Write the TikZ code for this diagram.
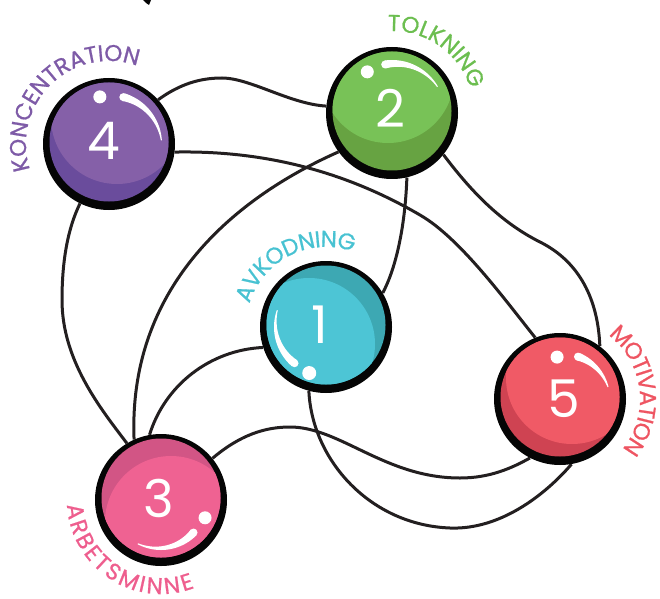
\documentclass[tikz,border=0pt]{standalone}
\usepackage{fontspec}
\setmainfont{Poppins}
\newfontfamily\myfam{Poppins}
\newfontfamily\labfam[FakeBold=0.8]{Poppins}
\usetikzlibrary{calc}
\definecolor{linecol}{HTML}{231F20}
\definecolor{ring}{HTML}{050505}
\definecolor{pl}{HTML}{8560A8}\definecolor{pd}{HTML}{6A4C9C}\definecolor{pt}{HTML}{7E5BA7}
\definecolor{gl}{HTML}{78C257}\definecolor{gd}{HTML}{67A342}\definecolor{gt}{HTML}{6CBE50}
\definecolor{cl}{HTML}{4DC5D5}\definecolor{cd}{HTML}{3DA8B3}\definecolor{ct}{HTML}{48C2D2}
\definecolor{rl}{HTML}{F05A66}\definecolor{rd}{HTML}{CF4352}\definecolor{rt}{HTML}{EE5562}
\definecolor{kl}{HTML}{EF6292}\definecolor{kd}{HTML}{D25585}\definecolor{kt}{HTML}{EE5E8E}
\newcommand\labelfont{\labfam\fontsize{23}{23}\selectfont}
\newcommand\numfont{\myfam\fontsize{52}{52}\selectfont}
\newlength\ctw
\newcommand\measurech[1]{%
  \pgfinterruptpicture\global\setbox1=\hbox{\labelfont #1}\endpgfinterruptpicture
  \ctw=\wd1\relax}
\newcommand\drawball[6]{%
  \fill[ring] (#1.center) circle[radius=66];
  \begin{scope}
    \clip ($(#1.center)+(0,2)$) circle[radius=59.5];
    \fill[#3] (#1.center) circle[radius=70];
    \fill[#2] ($(#1.center)+(#4)$) circle[radius=66];
  \end{scope}
  \node[numtext] at ($(#1.center)+(#6)$) {#5};
}
\newcommand\ballshine[5]{%
  \begin{scope}[shift={(#1.center)}]
    \fill[white] plot[domain=0:1,samples=40,variable=\t]
      ({#4*cos(#2+(#3-(#2))*\t)},{#4*sin(#2+(#3-(#2))*\t)})
      -- plot[domain=0:1,samples=40,variable=\t]
      ({(#4-1-(#5-1)*\t)*cos(#3+(#2-(#3))*\t)},{(#4-1-(#5-1)*\t)*sin(#3+(#2-(#3))*\t)})
      -- cycle;
    \fill[white] ({#2}:{#4-#5/2}) circle[radius=#5/2];
  \end{scope}
}
\newcommand\glint[4]{\fill[white] ($(#1.center)+({#2}:{#3})$) circle[radius=#4];}
% letters placed one by one along an arc, spread to fill it
\newcommand\curvetext[6]{%
  \gdef\cttotal{0}\gdef\ctcount{0}%
  \foreach \ch in {#3}{%
    \measurech{\ch}%
    \pgfmathsetmacro\cttmp{\cttotal+\ctw}\xdef\cttotal{\cttmp}%
    \pgfmathsetmacro\cttmp{\ctcount+1}\xdef\ctcount{\cttmp}%
  }%
  \pgfmathsetmacro\ctlen{abs(#5-(#4))*pi/180*#6}%
  \pgfmathsetmacro\ctgap{(\ctlen-\cttotal)/(\ctcount-1)}%
  \pgfmathsetmacro\ctsgn{sign(#5-(#4))}%
  \gdef\ctpos{0}%
  \foreach \ch in {#3}{%
    \measurech{\ch}%
    \pgfmathsetmacro\ctang{#4+\ctsgn*(\ctpos+\ctw/2)/#6*180/pi}%
    \pgfmathsetmacro\ctrot{\ctang+90*\ctsgn}%
    \node[text=#2,font=\labelfont,inner sep=0pt,anchor=base,rotate=\ctrot] at ($(#1.center)+(\ctang:#6)$) {\ch};
    \pgfmathsetmacro\cttmp{\ctpos+\ctw+\ctgap}\xdef\ctpos{\cttmp}%
  }%
}
\begin{document}
\begin{tikzpicture}[x=1pt,y=1pt,
  ballnode/.style={circle,minimum size=132pt,inner sep=0pt},
  conn/.style={draw=linecol,line width=3pt},
  numtext/.style={text=white,font=\numfont,inner sep=0pt}]
\useasboundingbox (0,0) rectangle (660,598);
\node[ballnode] (b4) at (109,454) {};
\node[ballnode] (b2) at (392,485) {};
\node[ballnode] (b1) at (326,271) {};
\node[ballnode] (b5) at (560,199) {};
\node[ballnode] (b3) at (161,98) {};
% small mark at top
\fill[ring] (143,598) -- (151,598) -- (149,593) -- (146,595) -- cycle;
% connectors
\draw[conn] (b4.42) .. controls (180,514) and (200,520) .. (222,520) .. controls (250,520) and (290,494) .. (b2.174);
\draw[conn] (b4.-7) .. controls (280,448) and (360,418) .. (420,383) .. controls (460,360) and (505,298) .. (b5.112);
\draw[conn] (b4.244) .. controls (68,370) and (62,338) .. (62,298) .. controls (62,238) and (100,190) .. (b3.121);
\draw[conn] (b2.216) .. controls (230,398) and (128,308) .. (b3.114);
\draw[conn] (b2.283) .. controls (405,368) and (395,328) .. (b1.31);
\draw[conn] (b2.-39.5) .. controls (470,408) and (500,376) .. (540,356) .. controls (580,336) and (598,298) .. (b5.53);
\draw[conn] (b1.198) .. controls (210,248) and (165,213) .. (b3.100);
\draw[conn] (b1.255) .. controls (312,138) and (370,73) .. (450,70) .. controls (500,68) and (545,103) .. (b5.280);
\draw[conn] (b3.39) .. controls (240,163) and (265,171) .. (290,171) .. controls (340,171) and (385,120) .. (460,120) .. controls (490,120) and (512,130) .. (b5.243);
% balls
\drawball{b4}{pl}{pd}{8,26}{4}{-5,3}
\ballshine{b4}{73}{4}{53}{8}
\glint{b4}{101}{48}{6.5}
\drawball{b2}{gl}{gd}{-4,36}{2}{-1.5,5}
\ballshine{b2}{98}{30}{53}{8}
\glint{b2}{121}{48}{6.5}
\drawball{b1}{cl}{cd}{-17,-17}{1}{-6,2}
\ballshine{b1}{229}{161}{52}{8}
\glint{b1}{250}{49}{7}
\drawball{b5}{rl}{rd}{12,21}{5}{4,0}
\ballshine{b5}{67}{14}{50}{8}
\glint{b5}{94}{42}{6.5}
\drawball{b3}{kl}{kd}{10,-22}{3}{-2.5,2}
\ballshine{b3}{-45}{-118}{50}{8}
\glint{b3}{-22}{47.5}{6.5}
% labels
\curvetext{b4}{pt}{K,O,N,C,E,N,T,R,A,T,I,O,N}{198}{70}{83}
\curvetext{b2}{gt}{T,O,L,K,N,I,N,G}{93}{17}{82}
\curvetext{b1}{ct}{A,V,K,O,D,N,I,N,G}{163}{70}{80}
\curvetext{b5}{rt}{M,O,T,I,V,A,T,I,O,N}{53}{-39}{80}
\curvetext{b3}{kt}{A,R,B,E,T,S,M,I,N,N,E}{183}{291}{94}
\end{tikzpicture}
\end{document}
